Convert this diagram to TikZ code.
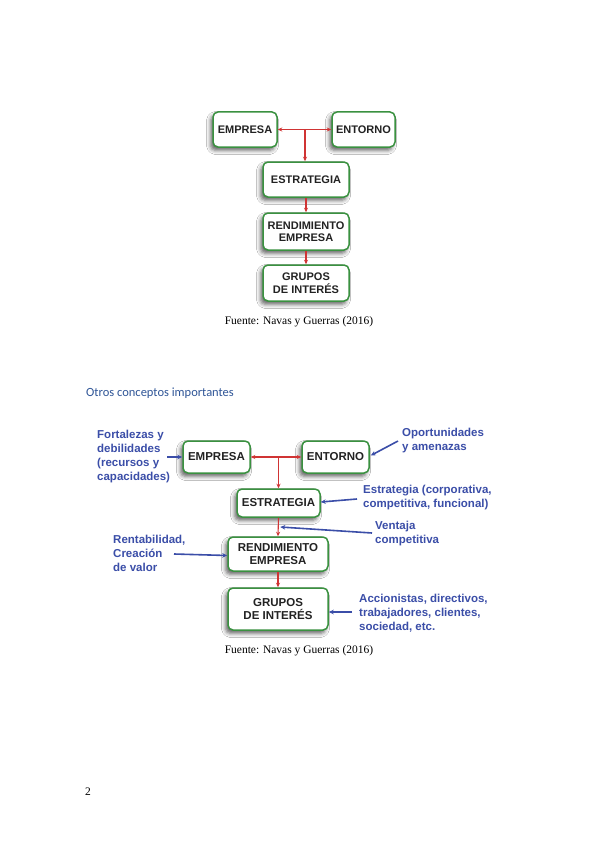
\documentclass[tikz,border=0pt]{standalone}
\usepackage{fontspec}
\setmainfont{Liberation Serif}
\setsansfont{Liberation Sans}
\newfontfamily\headfont{Carlito}
\usetikzlibrary{arrows.meta,shadows.blur,calc}
\definecolor{boxgreen}{HTML}{3A9140}
\definecolor{linered}{HTML}{D03434}
\definecolor{noteblue}{HTML}{3B4EA8}
\definecolor{headblue}{HTML}{2F5597}
\definecolor{boxtext}{HTML}{222222}
\begin{document}
\begin{tikzpicture}[x=1pt,y=-1pt,
 box/.style={draw=boxgreen, line width=1.5pt, rounded corners=5pt, fill=white,
   blur shadow={shadow xshift=-2.5pt, shadow yshift=-3.5pt, shadow blur radius=4pt, shadow opacity=60},
   text=boxtext, align=center, inner sep=0pt},
 boxA/.style={box, font=\sffamily\bfseries\fontsize{11}{12.5}\selectfont},
 boxB/.style={box, font=\sffamily\bfseries\fontsize{11.5}{13}\selectfont},
 redline/.style={draw=linered, line width=1.1pt},
 redarrow/.style={redline, -{Stealth[length=4.5pt,width=4pt]}},
 bluearrow/.style={draw=noteblue, line width=1.6pt, -{Stealth[length=5pt,width=4.5pt]}},
 note/.style={font=\sffamily\bfseries\fontsize{11.5}{14}\selectfont, text=noteblue, align=left, anchor=west, inner sep=0pt},
 caption/.style={font=\fontsize{11.5}{14}\selectfont, inner sep=0pt}]
\useasboundingbox[fill=white] (0,0) rectangle (599,848);

% ---------- top diagram ----------
\node[boxA, minimum width=64pt, minimum height=35pt] (emp1) at (245,129.5) {EMPRESA};
\node[boxA, minimum width=63pt, minimum height=35pt] (ent1) at (363.5,129.5) {ENTORNO};
\node[boxA, minimum width=86pt, minimum height=35pt] (est1) at (306,179.5) {ESTRATEGIA};
\node[boxA, minimum width=86pt, minimum height=37pt] (ren1) at (306,231.5) {RENDIMIENTO\\EMPRESA};
\node[boxA, minimum width=86pt, minimum height=36pt] (gru1) at (306,283) {GRUPOS\\DE INTERÉS};
\coordinate (j1) at (305,129.5);
\draw[redarrow] (j1) -- (emp1.east);
\draw[redarrow] (j1) -- (ent1.west);
\draw[redarrow] (j1) -- (j1 |- est1.north);
\draw[redarrow] (est1.south) -- (ren1.north);
\draw[redarrow] (ren1.south) -- (gru1.north);
\node[caption] (cap1) at (299,322) {Fuente: Navas y Guerras (2016)};

% ---------- heading ----------
\node[font=\headfont\fontsize{12.5}{14}\selectfont, text=headblue, anchor=west, inner sep=0pt] (head) at (86,393) {Otros conceptos importantes};

% ---------- bottom diagram ----------
\node[boxB, minimum width=67pt, minimum height=32pt] (emp2) at (216.5,457) {EMPRESA};
\node[boxB, minimum width=67pt, minimum height=32pt] (ent2) at (335.5,457) {ENTORNO};
\node[boxB, minimum width=83pt, minimum height=28pt] (est2) at (278.5,503) {ESTRATEGIA};
\node[boxB, minimum width=100pt, minimum height=34pt] (ren2) at (278,554) {RENDIMIENTO\\EMPRESA};
\node[boxB, minimum width=100pt, minimum height=42pt] (gru2) at (278,609) {GRUPOS\\DE INTERÉS};
\coordinate (j2) at (278.5,457);
\draw[redarrow] (j2) -- (emp2.east);
\draw[redarrow] (j2) -- (ent2.west);
\draw[redarrow] (j2) -- (j2 |- est2.north);
\draw[redarrow] (est2.south) -- (ren2.north);
\draw[redarrow] (ren2.south) -- (gru2.north);

% notes
\node[note] (nfor) at (97,457) {Fortalezas y\\debilidades\\(recursos y\\capacidades)};
\node[note] (nopo) at (402,441) {Oportunidades\\y amenazas};
\node[note] (nest) at (363,498) {Estrategia (corporativa,\\competitiva, funcional)};
\node[note] (nven) at (375,534) {Ventaja\\competitiva};
\node[note] (nren) at (113,553) {Rentabilidad,\\Creación\\de valor};
\node[note] (nacc) at (359,613) {Accionistas, directivos,\\trabajadores, clientes,\\sociedad, etc.};

\coordinate (afor) at (167,457);
\coordinate (aopo) at (398,441);
\coordinate (aest) at (357,499);
\coordinate (aven) at (372,533);
\coordinate (aren) at (174,554);
\coordinate (aacc) at (352,612);
\coordinate (vtip) at ($(est2.south)!0.5!(ren2.north)+(2,0)$);

\draw[bluearrow] (afor) -- (emp2.west);
\draw[bluearrow] (aopo) -- ([xshift=1pt,yshift=1.5pt]ent2.east);
\draw[bluearrow] (aest) -- ([yshift=1pt]est2.east);
\draw[bluearrow] (aven) -- (vtip);
\draw[bluearrow] (aren) -- ([yshift=-1.5pt]ren2.west);
\draw[bluearrow] (aacc) -- ([yshift=-3pt]gru2.east);

\node[caption] (cap2) at (299,651) {Fuente: Navas y Guerras (2016)};
\node[caption] (pg) at (88,792) {2};
\end{tikzpicture}
\end{document}
